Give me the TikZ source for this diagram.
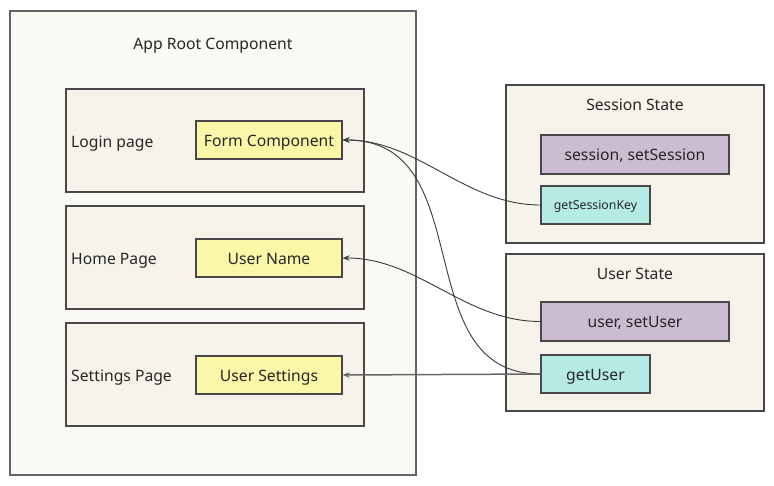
\documentclass[tikz,border=0pt]{standalone}
\usepackage{fontspec}
\setmainfont{Noto Sans}
\usetikzlibrary{arrows.meta}
\definecolor{outerfill}{HTML}{FAF9F3}
\definecolor{pagefill}{HTML}{F6F4EA}
\definecolor{yel}{HTML}{FAF7A9}
\definecolor{purp}{HTML}{CBBCD2}
\definecolor{teal}{HTML}{B6EBE4}
\definecolor{edge}{HTML}{4A474A}
\definecolor{conn}{HTML}{3A3A3A}
\tikzset{
  box/.style={draw=edge, line width=1.2pt, rectangle, inner sep=0pt},
  bigtext/.style={font=\fontsize{15.7}{18}\selectfont, text=black!85, text height=16.5pt, text depth=4pt},
  outerbox/.style={box, draw=edge!85, fill=outerfill},
  pagebox/.style={box, fill=pagefill, minimum width=298pt, minimum height=103pt},
  compbox/.style={box, fill=yel, minimum width=146pt, minimum height=38pt, bigtext},
  statebox/.style={box, fill=pagefill, minimum width=258pt},
  setbox/.style={box, fill=purp, minimum width=188pt, minimum height=39pt, bigtext},
  getbox/.style={box, fill=teal, minimum width=109pt, minimum height=38pt},
  lbl/.style={bigtext, inner sep=0pt},
  conline/.style={draw=conn, line width=0.9pt, -{Stealth[length=7pt,width=5.5pt]}},
}
\begin{document}
\begin{tikzpicture}[x=1pt,y=-1pt]
\useasboundingbox (0,0) rectangle (774,486);
\fill[white] (0,0) rectangle (774,486);
% App root
\node[outerbox, minimum width=406pt, minimum height=464pt] (root) at (213,243) {};
\node[lbl] (roott) at (213,43) {App Root Component};
% pages
\node[pagebox] (login) at (215,140.5) {};
\node[lbl, anchor=west] (logint) at (71,141) {Login page};
\node[compbox] (form) at (269,140) {Form Component};
\node[pagebox] (home) at (215,257.5) {};
\node[lbl, anchor=west] (homet) at (71,258) {Home Page};
\node[compbox] (uname) at (269,258) {User Name};
\node[pagebox] (sett) at (215,374.5) {};
\node[lbl, anchor=west] (settt) at (71,375) {Settings Page};
\node[compbox] (usett) at (269,375) {User Settings};
% session state
\node[statebox, minimum height=158pt] (sstate) at (635,164) {};
\node[lbl] (sstatet) at (635,104) {Session State};
\node[setbox] (sess) at (635,154.5) {session, setSession};
\node[getbox, font=\fontsize{12.3}{14}\selectfont, text=black!85, text height=13pt, text depth=3pt] (gsk) at (595.5,205) {getSessionKey};
% user state
\node[statebox, minimum height=157pt] (ustate) at (635,332.5) {};
\node[lbl] (ustatet) at (635,273) {User State};
\node[setbox] (us) at (635,321.5) {user, setUser};
\node[getbox, bigtext] (gu) at (595.5,374) {getUser};
% connectors
\draw[conline] (gsk.west) .. controls +(-76,0) and +(76,0) .. (form.east);
\draw[conline] (gu.west) .. controls +(-135,0) and +(139,0) .. (form.east);
\draw[conline] (us.west) .. controls +(-76,0) and +(76,0) .. (uname.east);
\draw[conline, draw=black!60, line width=1.5pt] (gu.west) -- (usett.east);
\end{tikzpicture}
\end{document}
